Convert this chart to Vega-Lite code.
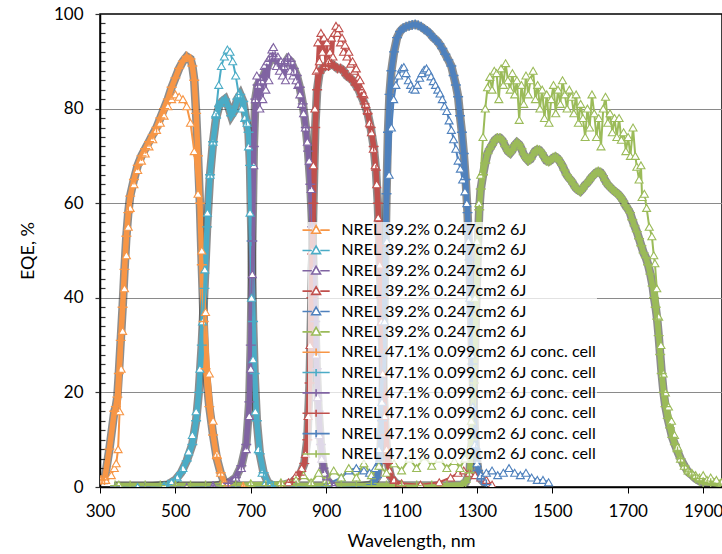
{
"$schema":"https://vega.github.io/schema/vega-lite/v6.json",
"width":622,"height":473,
"autosize":{"type":"none"},
"padding":{"left":100,"top":14,"right":0,"bottom":67},
"background":"white",
"config":{"font":"Lato","view":{"stroke":"black","strokeWidth":1.5}},
"data":{"values":[
{"s":"A1","x":302,"y":1.5},{"s":"A1","x":315,"y":1.5},{"s":"A1","x":330,"y":2.5},{"s":"A1","x":338,"y":4},{"s":"A1","x":343,"y":5},{"s":"A1","x":348,"y":8},{"s":"A1","x":352,"y":16},{"s":"A1","x":356,"y":25},{"s":"A1","x":360,"y":33},{"s":"A1","x":365,"y":42},{"s":"A1","x":370,"y":49},{"s":"A1","x":375,"y":55},{"s":"A1","x":380,"y":59},{"s":"A1","x":390,"y":64},{"s":"A1","x":400,"y":67},{"s":"A1","x":410,"y":69},{"s":"A1","x":420,"y":70.5},{"s":"A1","x":430,"y":72},{"s":"A1","x":440,"y":73.5},{"s":"A1","x":450,"y":75.5},{"s":"A1","x":460,"y":77},{"s":"A1","x":470,"y":78.5},{"s":"A1","x":480,"y":80.5},{"s":"A1","x":490,"y":82},{"s":"A1","x":500,"y":83},{"s":"A1","x":510,"y":82.5},{"s":"A1","x":520,"y":82},{"s":"A1","x":530,"y":80.5},{"s":"A1","x":540,"y":77},{"s":"A1","x":550,"y":71},{"s":"A1","x":560,"y":62},{"s":"A1","x":570,"y":50},{"s":"A1","x":580,"y":37},{"s":"A1","x":590,"y":24},{"s":"A1","x":600,"y":14},{"s":"A1","x":610,"y":7},{"s":"A1","x":620,"y":3},{"s":"A1","x":630,"y":1},{"s":"A1","x":640,"y":0.5},{"s":"A1","x":680,"y":0.2},
{"s":"A2","x":340,"y":0},{"s":"A2","x":400,"y":0},{"s":"A2","x":470,"y":0.3},{"s":"A2","x":490,"y":1},{"s":"A2","x":505,"y":2},{"s":"A2","x":520,"y":4},{"s":"A2","x":535,"y":7.5},{"s":"A2","x":545,"y":11},{"s":"A2","x":555,"y":16},{"s":"A2","x":565,"y":25},{"s":"A2","x":572,"y":35},{"s":"A2","x":578,"y":46},{"s":"A2","x":585,"y":58},{"s":"A2","x":592,"y":66},{"s":"A2","x":600,"y":73},{"s":"A2","x":607,"y":79},{"s":"A2","x":615,"y":85},{"s":"A2","x":622,"y":89},{"s":"A2","x":630,"y":91},{"s":"A2","x":638,"y":92.5},{"s":"A2","x":645,"y":92},{"s":"A2","x":652,"y":90},{"s":"A2","x":660,"y":87},{"s":"A2","x":668,"y":83},{"s":"A2","x":676,"y":80},{"s":"A2","x":684,"y":78},{"s":"A2","x":690,"y":77},{"s":"A2","x":694,"y":72},{"s":"A2","x":698,"y":58},{"s":"A2","x":702,"y":40},{"s":"A2","x":706,"y":27},{"s":"A2","x":712,"y":16},{"s":"A2","x":720,"y":8},{"s":"A2","x":730,"y":3},{"s":"A2","x":740,"y":1},{"s":"A2","x":750,"y":0.3},
{"s":"A3","x":530,"y":0},{"s":"A3","x":600,"y":0.3},{"s":"A3","x":640,"y":0.8},{"s":"A3","x":660,"y":2},{"s":"A3","x":675,"y":4},{"s":"A3","x":688,"y":8},{"s":"A3","x":696,"y":15},{"s":"A3","x":700,"y":25},{"s":"A3","x":704,"y":45},{"s":"A3","x":708,"y":68},{"s":"A3","x":712,"y":82},{"s":"A3","x":716,"y":87},{"s":"A3","x":720,"y":85},{"s":"A3","x":724,"y":80},{"s":"A3","x":728,"y":86},{"s":"A3","x":732,"y":82},{"s":"A3","x":736,"y":89},{"s":"A3","x":740,"y":84},{"s":"A3","x":744,"y":90},{"s":"A3","x":748,"y":86},{"s":"A3","x":752,"y":91},{"s":"A3","x":756,"y":92.5},{"s":"A3","x":760,"y":93},{"s":"A3","x":764,"y":91},{"s":"A3","x":768,"y":89},{"s":"A3","x":772,"y":91},{"s":"A3","x":776,"y":88},{"s":"A3","x":780,"y":90},{"s":"A3","x":784,"y":87},{"s":"A3","x":788,"y":89},{"s":"A3","x":792,"y":86},{"s":"A3","x":796,"y":90},{"s":"A3","x":800,"y":91},{"s":"A3","x":804,"y":88},{"s":"A3","x":808,"y":90},{"s":"A3","x":812,"y":87},{"s":"A3","x":816,"y":88},{"s":"A3","x":820,"y":86},{"s":"A3","x":825,"y":85},{"s":"A3","x":830,"y":83},{"s":"A3","x":835,"y":81},{"s":"A3","x":840,"y":79},{"s":"A3","x":845,"y":76},{"s":"A3","x":850,"y":73},{"s":"A3","x":855,"y":69},{"s":"A3","x":860,"y":63},{"s":"A3","x":864,"y":55},{"s":"A3","x":867,"y":46},{"s":"A3","x":870,"y":37},{"s":"A3","x":873,"y":28},{"s":"A3","x":877,"y":19},{"s":"A3","x":882,"y":11},{"s":"A3","x":888,"y":6},{"s":"A3","x":895,"y":3},{"s":"A3","x":905,"y":1},{"s":"A3","x":920,"y":0.3},
{"s":"A4","x":780,"y":0.3},{"s":"A4","x":800,"y":1},{"s":"A4","x":820,"y":2.5},{"s":"A4","x":835,"y":4},{"s":"A4","x":845,"y":7},{"s":"A4","x":852,"y":15},{"s":"A4","x":857,"y":30},{"s":"A4","x":862,"y":50},{"s":"A4","x":866,"y":68},{"s":"A4","x":870,"y":80},{"s":"A4","x":874,"y":88},{"s":"A4","x":878,"y":94},{"s":"A4","x":882,"y":90},{"s":"A4","x":886,"y":96},{"s":"A4","x":890,"y":92},{"s":"A4","x":894,"y":95},{"s":"A4","x":898,"y":89},{"s":"A4","x":902,"y":94},{"s":"A4","x":906,"y":90},{"s":"A4","x":910,"y":92},{"s":"A4","x":914,"y":95},{"s":"A4","x":918,"y":91},{"s":"A4","x":922,"y":96},{"s":"A4","x":926,"y":97.5},{"s":"A4","x":930,"y":96},{"s":"A4","x":934,"y":97},{"s":"A4","x":938,"y":94},{"s":"A4","x":942,"y":95},{"s":"A4","x":946,"y":92},{"s":"A4","x":950,"y":93.5},{"s":"A4","x":955,"y":91},{"s":"A4","x":960,"y":92},{"s":"A4","x":965,"y":89.5},{"s":"A4","x":970,"y":90},{"s":"A4","x":975,"y":88},{"s":"A4","x":980,"y":88.5},{"s":"A4","x":985,"y":86.5},{"s":"A4","x":990,"y":86},{"s":"A4","x":995,"y":84},{"s":"A4","x":1000,"y":83},{"s":"A4","x":1005,"y":81},{"s":"A4","x":1010,"y":79.5},{"s":"A4","x":1015,"y":77},{"s":"A4","x":1020,"y":75},{"s":"A4","x":1025,"y":71.5},{"s":"A4","x":1030,"y":68},{"s":"A4","x":1034,"y":64},{"s":"A4","x":1038,"y":57},{"s":"A4","x":1042,"y":47},{"s":"A4","x":1046,"y":35},{"s":"A4","x":1050,"y":24},{"s":"A4","x":1055,"y":15},{"s":"A4","x":1060,"y":8},{"s":"A4","x":1068,"y":3.5},{"s":"A4","x":1080,"y":1.5},{"s":"A4","x":1100,"y":0.8},{"s":"A4","x":1150,"y":0.5},{"s":"A4","x":1200,"y":1},{"s":"A4","x":1230,"y":2},{"s":"A4","x":1250,"y":3},{"s":"A4","x":1265,"y":3.5},{"s":"A4","x":1280,"y":3},{"s":"A4","x":1295,"y":2.5},{"s":"A4","x":1310,"y":2},{"s":"A4","x":1325,"y":1.5},{"s":"A4","x":1340,"y":0.5},
{"s":"A5","x":900,"y":0.5},{"s":"A5","x":940,"y":2},{"s":"A5","x":960,"y":3.5},{"s":"A5","x":980,"y":4},{"s":"A5","x":1000,"y":3.5},{"s":"A5","x":1015,"y":3},{"s":"A5","x":1030,"y":4},{"s":"A5","x":1040,"y":8},{"s":"A5","x":1048,"y":18},{"s":"A5","x":1055,"y":35},{"s":"A5","x":1061,"y":52},{"s":"A5","x":1067,"y":66},{"s":"A5","x":1073,"y":76},{"s":"A5","x":1079,"y":82},{"s":"A5","x":1085,"y":85},{"s":"A5","x":1092,"y":87},{"s":"A5","x":1100,"y":88.5},{"s":"A5","x":1106,"y":88.8},{"s":"A5","x":1112,"y":87.5},{"s":"A5","x":1118,"y":86},{"s":"A5","x":1124,"y":85},{"s":"A5","x":1130,"y":84.2},{"s":"A5","x":1136,"y":84},{"s":"A5","x":1142,"y":85},{"s":"A5","x":1148,"y":86.5},{"s":"A5","x":1154,"y":87.5},{"s":"A5","x":1160,"y":88.2},{"s":"A5","x":1166,"y":88.5},{"s":"A5","x":1172,"y":87.8},{"s":"A5","x":1178,"y":86.8},{"s":"A5","x":1184,"y":85.8},{"s":"A5","x":1190,"y":85},{"s":"A5","x":1196,"y":84},{"s":"A5","x":1202,"y":83.2},{"s":"A5","x":1208,"y":82},{"s":"A5","x":1214,"y":80.5},{"s":"A5","x":1220,"y":79.5},{"s":"A5","x":1226,"y":77.5},{"s":"A5","x":1232,"y":75.5},{"s":"A5","x":1238,"y":73.5},{"s":"A5","x":1244,"y":71.5},{"s":"A5","x":1250,"y":69},{"s":"A5","x":1256,"y":67.3},{"s":"A5","x":1262,"y":65},{"s":"A5","x":1268,"y":62.5},{"s":"A5","x":1273,"y":60},{"s":"A5","x":1277,"y":52},{"s":"A5","x":1281,"y":40},{"s":"A5","x":1285,"y":28},{"s":"A5","x":1289,"y":17},{"s":"A5","x":1294,"y":9},{"s":"A5","x":1300,"y":5},{"s":"A5","x":1310,"y":2.5},{"s":"A5","x":1325,"y":3},{"s":"A5","x":1340,"y":3.5},{"s":"A5","x":1355,"y":2.5},{"s":"A5","x":1370,"y":3},{"s":"A5","x":1385,"y":4},{"s":"A5","x":1400,"y":3},{"s":"A5","x":1415,"y":2.5},{"s":"A5","x":1430,"y":3},{"s":"A5","x":1445,"y":2},{"s":"A5","x":1460,"y":1.5},{"s":"A5","x":1475,"y":1.5},{"s":"A5","x":1490,"y":1},
{"s":"A6","x":350,"y":0.5},{"s":"A6","x":500,"y":0.5},{"s":"A6","x":700,"y":0.8},{"s":"A6","x":780,"y":1},{"s":"A6","x":820,"y":1.5},{"s":"A6","x":840,"y":2.5},{"s":"A6","x":860,"y":1},{"s":"A6","x":880,"y":3},{"s":"A6","x":900,"y":1.5},{"s":"A6","x":920,"y":3.5},{"s":"A6","x":940,"y":2},{"s":"A6","x":960,"y":4},{"s":"A6","x":980,"y":2},{"s":"A6","x":1000,"y":5},{"s":"A6","x":1020,"y":2.5},{"s":"A6","x":1040,"y":4.5},{"s":"A6","x":1060,"y":3},{"s":"A6","x":1080,"y":5},{"s":"A6","x":1100,"y":3.5},{"s":"A6","x":1120,"y":6},{"s":"A6","x":1140,"y":4},{"s":"A6","x":1160,"y":6.5},{"s":"A6","x":1180,"y":4.5},{"s":"A6","x":1200,"y":6},{"s":"A6","x":1220,"y":4},{"s":"A6","x":1240,"y":5.5},{"s":"A6","x":1255,"y":4},{"s":"A6","x":1268,"y":6},{"s":"A6","x":1278,"y":8},{"s":"A6","x":1285,"y":14},{"s":"A6","x":1290,"y":25},{"s":"A6","x":1295,"y":40},{"s":"A6","x":1300,"y":52},{"s":"A6","x":1305,"y":60},{"s":"A6","x":1310,"y":66},{"s":"A6","x":1316,"y":74},{"s":"A6","x":1322,"y":80},{"s":"A6","x":1328,"y":84.5},{"s":"A6","x":1334,"y":86.7},{"s":"A6","x":1340,"y":84},{"s":"A6","x":1346,"y":88},{"s":"A6","x":1352,"y":87.5},{"s":"A6","x":1358,"y":82},{"s":"A6","x":1364,"y":88.5},{"s":"A6","x":1370,"y":85},{"s":"A6","x":1376,"y":89.6},{"s":"A6","x":1382,"y":86},{"s":"A6","x":1388,"y":84},{"s":"A6","x":1394,"y":87.5},{"s":"A6","x":1400,"y":83},{"s":"A6","x":1406,"y":86},{"s":"A6","x":1412,"y":77.6},{"s":"A6","x":1418,"y":85},{"s":"A6","x":1424,"y":81},{"s":"A6","x":1430,"y":87},{"s":"A6","x":1436,"y":83},{"s":"A6","x":1442,"y":86},{"s":"A6","x":1449,"y":88},{"s":"A6","x":1455,"y":82},{"s":"A6","x":1461,"y":85},{"s":"A6","x":1467,"y":80},{"s":"A6","x":1473,"y":84},{"s":"A6","x":1479,"y":78},{"s":"A6","x":1485,"y":83},{"s":"A6","x":1491,"y":77},{"s":"A6","x":1497,"y":82},{"s":"A6","x":1503,"y":85},{"s":"A6","x":1509,"y":79},{"s":"A6","x":1515,"y":84},{"s":"A6","x":1521,"y":81},{"s":"A6","x":1527,"y":86},{"s":"A6","x":1533,"y":83},{"s":"A6","x":1539,"y":80},{"s":"A6","x":1545,"y":84},{"s":"A6","x":1551,"y":82.5},{"s":"A6","x":1557,"y":79},{"s":"A6","x":1563,"y":83},{"s":"A6","x":1569,"y":77},{"s":"A6","x":1575,"y":81},{"s":"A6","x":1581,"y":78},{"s":"A6","x":1587,"y":74},{"s":"A6","x":1593,"y":80},{"s":"A6","x":1599,"y":76},{"s":"A6","x":1605,"y":83},{"s":"A6","x":1611,"y":79},{"s":"A6","x":1617,"y":74},{"s":"A6","x":1623,"y":78},{"s":"A6","x":1629,"y":72},{"s":"A6","x":1635,"y":80},{"s":"A6","x":1641,"y":82.5},{"s":"A6","x":1647,"y":77},{"s":"A6","x":1653,"y":79},{"s":"A6","x":1659,"y":75},{"s":"A6","x":1665,"y":78},{"s":"A6","x":1671,"y":74},{"s":"A6","x":1677,"y":78},{"s":"A6","x":1683,"y":73.4},{"s":"A6","x":1689,"y":75},{"s":"A6","x":1695,"y":71},{"s":"A6","x":1701,"y":74},{"s":"A6","x":1707,"y":70},{"s":"A6","x":1714,"y":76},{"s":"A6","x":1720,"y":70},{"s":"A6","x":1724,"y":67.7},{"s":"A6","x":1730,"y":65},{"s":"A6","x":1735,"y":68},{"s":"A6","x":1738,"y":61.3},{"s":"A6","x":1744,"y":62},{"s":"A6","x":1750,"y":59},{"s":"A6","x":1757,"y":55},{"s":"A6","x":1764,"y":53},{"s":"A6","x":1769,"y":49},{"s":"A6","x":1772,"y":47.3},{"s":"A6","x":1777,"y":42},{"s":"A6","x":1782,"y":36},{"s":"A6","x":1788,"y":30},{"s":"A6","x":1794,"y":24},{"s":"A6","x":1800,"y":20},{"s":"A6","x":1808,"y":17},{"s":"A6","x":1816,"y":14},{"s":"A6","x":1824,"y":11},{"s":"A6","x":1832,"y":8.5},{"s":"A6","x":1840,"y":6},{"s":"A6","x":1850,"y":4.5},{"s":"A6","x":1860,"y":3.5},{"s":"A6","x":1870,"y":3},{"s":"A6","x":1880,"y":2.5},{"s":"A6","x":1890,"y":2},{"s":"A6","x":1900,"y":2.5},{"s":"A6","x":1910,"y":1.5},{"s":"A6","x":1920,"y":2},{"s":"A6","x":1935,"y":1.5},{"s":"A6","x":1948,"y":1},
{"s":"B1","x":303,"y":1.5},{"s":"B1","x":312,"y":1.5},{"s":"B1","x":325,"y":8},{"s":"B1","x":338,"y":16},{"s":"B1","x":342,"y":17},{"s":"B1","x":346,"y":19},{"s":"B1","x":350,"y":24},{"s":"B1","x":355,"y":31},{"s":"B1","x":360,"y":38},{"s":"B1","x":365,"y":46},{"s":"B1","x":370,"y":53},{"s":"B1","x":375,"y":58},{"s":"B1","x":380,"y":61.5},{"s":"B1","x":390,"y":65},{"s":"B1","x":400,"y":68},{"s":"B1","x":410,"y":70},{"s":"B1","x":420,"y":71.5},{"s":"B1","x":430,"y":73},{"s":"B1","x":440,"y":74.5},{"s":"B1","x":450,"y":76},{"s":"B1","x":460,"y":78},{"s":"B1","x":470,"y":80},{"s":"B1","x":480,"y":82},{"s":"B1","x":490,"y":84.5},{"s":"B1","x":500,"y":86.5},{"s":"B1","x":510,"y":88.5},{"s":"B1","x":520,"y":90},{"s":"B1","x":530,"y":91},{"s":"B1","x":540,"y":90.5},{"s":"B1","x":545,"y":89},{"s":"B1","x":550,"y":86},{"s":"B1","x":555,"y":79},{"s":"B1","x":560,"y":70},{"s":"B1","x":565,"y":60},{"s":"B1","x":570,"y":47},{"s":"B1","x":575,"y":35},{"s":"B1","x":580,"y":25},{"s":"B1","x":590,"y":17},{"s":"B1","x":600,"y":11},{"s":"B1","x":610,"y":6},{"s":"B1","x":620,"y":3},{"s":"B1","x":630,"y":1},{"s":"B1","x":640,"y":0.3},{"s":"B1","x":680,"y":0},
{"s":"B2","x":340,"y":0},{"s":"B2","x":420,"y":0},{"s":"B2","x":480,"y":0.5},{"s":"B2","x":500,"y":1.5},{"s":"B2","x":515,"y":3},{"s":"B2","x":530,"y":5.5},{"s":"B2","x":545,"y":9},{"s":"B2","x":555,"y":14},{"s":"B2","x":562,"y":20},{"s":"B2","x":570,"y":30},{"s":"B2","x":577,"y":42},{"s":"B2","x":584,"y":55},{"s":"B2","x":592,"y":66},{"s":"B2","x":600,"y":73},{"s":"B2","x":608,"y":78},{"s":"B2","x":616,"y":80.5},{"s":"B2","x":624,"y":81.5},{"s":"B2","x":632,"y":82},{"s":"B2","x":640,"y":80.5},{"s":"B2","x":648,"y":78.5},{"s":"B2","x":656,"y":79.5},{"s":"B2","x":664,"y":82},{"s":"B2","x":672,"y":83},{"s":"B2","x":680,"y":81.5},{"s":"B2","x":688,"y":77.5},{"s":"B2","x":694,"y":75},{"s":"B2","x":698,"y":68},{"s":"B2","x":702,"y":52},{"s":"B2","x":706,"y":35},{"s":"B2","x":710,"y":24},{"s":"B2","x":716,"y":14},{"s":"B2","x":724,"y":7},{"s":"B2","x":734,"y":3},{"s":"B2","x":745,"y":1},{"s":"B2","x":760,"y":0.2},
{"s":"B3","x":340,"y":0},{"s":"B3","x":500,"y":0},{"s":"B3","x":600,"y":0.2},{"s":"B3","x":640,"y":0.8},{"s":"B3","x":660,"y":2},{"s":"B3","x":675,"y":4.5},{"s":"B3","x":688,"y":9},{"s":"B3","x":696,"y":18},{"s":"B3","x":700,"y":30},{"s":"B3","x":704,"y":52},{"s":"B3","x":708,"y":72},{"s":"B3","x":712,"y":82},{"s":"B3","x":718,"y":85},{"s":"B3","x":726,"y":86},{"s":"B3","x":734,"y":87},{"s":"B3","x":742,"y":88.5},{"s":"B3","x":750,"y":90},{"s":"B3","x":758,"y":91},{"s":"B3","x":766,"y":90.5},{"s":"B3","x":774,"y":89.5},{"s":"B3","x":782,"y":89},{"s":"B3","x":790,"y":89.5},{"s":"B3","x":798,"y":90.5},{"s":"B3","x":806,"y":90},{"s":"B3","x":814,"y":88.5},{"s":"B3","x":822,"y":87},{"s":"B3","x":830,"y":84.5},{"s":"B3","x":838,"y":81},{"s":"B3","x":846,"y":76},{"s":"B3","x":852,"y":71},{"s":"B3","x":858,"y":64},{"s":"B3","x":863,"y":55},{"s":"B3","x":867,"y":45},{"s":"B3","x":871,"y":35},{"s":"B3","x":875,"y":25},{"s":"B3","x":880,"y":16},{"s":"B3","x":886,"y":9},{"s":"B3","x":893,"y":4},{"s":"B3","x":902,"y":1.5},{"s":"B3","x":915,"y":0.3},
{"s":"B4","x":340,"y":0},{"s":"B4","x":420,"y":0},{"s":"B4","x":500,"y":0},{"s":"B4","x":580,"y":0},{"s":"B4","x":660,"y":0},{"s":"B4","x":740,"y":0},{"s":"B4","x":780,"y":0.3},{"s":"B4","x":810,"y":1},{"s":"B4","x":830,"y":2.5},{"s":"B4","x":842,"y":5},{"s":"B4","x":850,"y":10},{"s":"B4","x":856,"y":22},{"s":"B4","x":861,"y":40},{"s":"B4","x":866,"y":60},{"s":"B4","x":871,"y":76},{"s":"B4","x":876,"y":84},{"s":"B4","x":882,"y":87.5},{"s":"B4","x":890,"y":88.5},{"s":"B4","x":898,"y":89},{"s":"B4","x":906,"y":89},{"s":"B4","x":914,"y":89.5},{"s":"B4","x":922,"y":89},{"s":"B4","x":930,"y":88.5},{"s":"B4","x":938,"y":88.5},{"s":"B4","x":946,"y":88},{"s":"B4","x":954,"y":87},{"s":"B4","x":962,"y":86.5},{"s":"B4","x":970,"y":86},{"s":"B4","x":978,"y":85},{"s":"B4","x":986,"y":84},{"s":"B4","x":994,"y":82.5},{"s":"B4","x":1002,"y":81},{"s":"B4","x":1010,"y":79},{"s":"B4","x":1018,"y":76},{"s":"B4","x":1026,"y":72},{"s":"B4","x":1032,"y":67},{"s":"B4","x":1037,"y":60},{"s":"B4","x":1041,"y":51},{"s":"B4","x":1045,"y":40},{"s":"B4","x":1049,"y":29},{"s":"B4","x":1053,"y":19},{"s":"B4","x":1058,"y":11},{"s":"B4","x":1064,"y":5},{"s":"B4","x":1072,"y":2},{"s":"B4","x":1085,"y":0.8},{"s":"B4","x":1100,"y":0.3},
{"s":"B5","x":340,"y":0},{"s":"B5","x":420,"y":0},{"s":"B5","x":500,"y":0},{"s":"B5","x":580,"y":0},{"s":"B5","x":660,"y":0},{"s":"B5","x":740,"y":0},{"s":"B5","x":820,"y":0},{"s":"B5","x":900,"y":0},{"s":"B5","x":980,"y":0},{"s":"B5","x":1020,"y":0.5},{"s":"B5","x":1035,"y":2},{"s":"B5","x":1043,"y":6},{"s":"B5","x":1048,"y":14},{"s":"B5","x":1052,"y":28},{"s":"B5","x":1056,"y":45},{"s":"B5","x":1060,"y":62},{"s":"B5","x":1064,"y":75},{"s":"B5","x":1068,"y":83},{"s":"B5","x":1073,"y":88},{"s":"B5","x":1080,"y":92},{"s":"B5","x":1088,"y":95},{"s":"B5","x":1096,"y":96.3},{"s":"B5","x":1104,"y":97},{"s":"B5","x":1112,"y":97.3},{"s":"B5","x":1120,"y":97.5},{"s":"B5","x":1128,"y":97.7},{"s":"B5","x":1136,"y":97.8},{"s":"B5","x":1144,"y":97.6},{"s":"B5","x":1152,"y":97.3},{"s":"B5","x":1160,"y":96.8},{"s":"B5","x":1168,"y":96.4},{"s":"B5","x":1176,"y":95.8},{"s":"B5","x":1184,"y":95},{"s":"B5","x":1192,"y":94.5},{"s":"B5","x":1200,"y":93.7},{"s":"B5","x":1208,"y":92.7},{"s":"B5","x":1216,"y":91.5},{"s":"B5","x":1224,"y":90.3},{"s":"B5","x":1232,"y":89},{"s":"B5","x":1238,"y":87},{"s":"B5","x":1244,"y":85},{"s":"B5","x":1250,"y":82.5},{"s":"B5","x":1255,"y":78.5},{"s":"B5","x":1260,"y":75},{"s":"B5","x":1265,"y":70.5},{"s":"B5","x":1270,"y":65},{"s":"B5","x":1275,"y":58},{"s":"B5","x":1280,"y":48},{"s":"B5","x":1284,"y":37},{"s":"B5","x":1288,"y":26},{"s":"B5","x":1292,"y":16},{"s":"B5","x":1297,"y":8},{"s":"B5","x":1303,"y":3.5},{"s":"B5","x":1312,"y":1.5},{"s":"B5","x":1325,"y":0.5},
{"s":"B6","x":340,"y":0.3},{"s":"B6","x":380,"y":0.3},{"s":"B6","x":420,"y":0.3},{"s":"B6","x":460,"y":0.3},{"s":"B6","x":500,"y":0.3},{"s":"B6","x":540,"y":0.3},{"s":"B6","x":580,"y":0.3},{"s":"B6","x":620,"y":0.3},{"s":"B6","x":660,"y":0.3},{"s":"B6","x":700,"y":0.3},{"s":"B6","x":740,"y":0.3},{"s":"B6","x":780,"y":0.3},{"s":"B6","x":820,"y":0.3},{"s":"B6","x":860,"y":0.3},{"s":"B6","x":900,"y":0.3},{"s":"B6","x":940,"y":0.3},{"s":"B6","x":980,"y":0.3},{"s":"B6","x":1020,"y":0.3},{"s":"B6","x":1060,"y":0.3},{"s":"B6","x":1100,"y":0.3},{"s":"B6","x":1140,"y":0.3},{"s":"B6","x":1180,"y":0.3},{"s":"B6","x":1220,"y":0.3},{"s":"B6","x":1260,"y":0.5},{"s":"B6","x":1270,"y":1},{"s":"B6","x":1280,"y":3},{"s":"B6","x":1287,"y":10},{"s":"B6","x":1292,"y":22},{"s":"B6","x":1297,"y":36},{"s":"B6","x":1302,"y":50},{"s":"B6","x":1306,"y":58.6},{"s":"B6","x":1310,"y":63},{"s":"B6","x":1316,"y":66},{"s":"B6","x":1322,"y":68.5},{"s":"B6","x":1328,"y":70.5},{"s":"B6","x":1334,"y":71.5},{"s":"B6","x":1340,"y":72.3},{"s":"B6","x":1347,"y":73.3},{"s":"B6","x":1354,"y":73.8},{"s":"B6","x":1361,"y":73.8},{"s":"B6","x":1368,"y":73.2},{"s":"B6","x":1375,"y":72},{"s":"B6","x":1382,"y":71},{"s":"B6","x":1388,"y":70.6},{"s":"B6","x":1394,"y":71.2},{"s":"B6","x":1400,"y":72.3},{"s":"B6","x":1406,"y":72.8},{"s":"B6","x":1412,"y":72.4},{"s":"B6","x":1418,"y":71.5},{"s":"B6","x":1424,"y":70.3},{"s":"B6","x":1430,"y":69.5},{"s":"B6","x":1436,"y":69},{"s":"B6","x":1442,"y":69.3},{"s":"B6","x":1448,"y":70.2},{"s":"B6","x":1454,"y":71},{"s":"B6","x":1460,"y":71.3},{"s":"B6","x":1466,"y":71.2},{"s":"B6","x":1472,"y":70.6},{"s":"B6","x":1478,"y":69.8},{"s":"B6","x":1484,"y":69},{"s":"B6","x":1490,"y":68.8},{"s":"B6","x":1496,"y":69.1},{"s":"B6","x":1502,"y":69.6},{"s":"B6","x":1508,"y":69.8},{"s":"B6","x":1514,"y":69.5},{"s":"B6","x":1520,"y":68.8},{"s":"B6","x":1526,"y":68},{"s":"B6","x":1532,"y":67},{"s":"B6","x":1538,"y":66},{"s":"B6","x":1544,"y":65.3},{"s":"B6","x":1550,"y":64.8},{"s":"B6","x":1556,"y":64},{"s":"B6","x":1562,"y":63.2},{"s":"B6","x":1568,"y":62.8},{"s":"B6","x":1574,"y":62.5},{"s":"B6","x":1580,"y":63},{"s":"B6","x":1586,"y":63.8},{"s":"B6","x":1592,"y":64.2},{"s":"B6","x":1598,"y":64.8},{"s":"B6","x":1604,"y":65.5},{"s":"B6","x":1610,"y":66},{"s":"B6","x":1616,"y":66.5},{"s":"B6","x":1622,"y":66.7},{"s":"B6","x":1628,"y":66.5},{"s":"B6","x":1634,"y":65.8},{"s":"B6","x":1640,"y":64.8},{"s":"B6","x":1646,"y":64},{"s":"B6","x":1652,"y":63.5},{"s":"B6","x":1658,"y":63},{"s":"B6","x":1664,"y":62.6},{"s":"B6","x":1670,"y":62.2},{"s":"B6","x":1676,"y":61.8},{"s":"B6","x":1682,"y":61.2},{"s":"B6","x":1688,"y":60.5},{"s":"B6","x":1694,"y":59.5},{"s":"B6","x":1700,"y":58.8},{"s":"B6","x":1706,"y":58},{"s":"B6","x":1712,"y":56.5},{"s":"B6","x":1718,"y":55.2},{"s":"B6","x":1724,"y":54},{"s":"B6","x":1730,"y":52.5},{"s":"B6","x":1736,"y":51},{"s":"B6","x":1742,"y":49.5},{"s":"B6","x":1748,"y":48.5},{"s":"B6","x":1754,"y":47},{"s":"B6","x":1760,"y":45},{"s":"B6","x":1766,"y":42.5},{"s":"B6","x":1770,"y":40},{"s":"B6","x":1774,"y":38},{"s":"B6","x":1778,"y":35.5},{"s":"B6","x":1782,"y":32},{"s":"B6","x":1786,"y":28},{"s":"B6","x":1790,"y":24},{"s":"B6","x":1795,"y":20},{"s":"B6","x":1800,"y":17},{"s":"B6","x":1806,"y":14.5},{"s":"B6","x":1812,"y":12.5},{"s":"B6","x":1818,"y":10.5},{"s":"B6","x":1825,"y":9},{"s":"B6","x":1832,"y":7.5},{"s":"B6","x":1840,"y":6},{"s":"B6","x":1850,"y":4.5},{"s":"B6","x":1860,"y":3.2},{"s":"B6","x":1870,"y":2.5},{"s":"B6","x":1880,"y":1.8},{"s":"B6","x":1890,"y":1.3},{"s":"B6","x":1900,"y":1},{"s":"B6","x":1920,"y":0.8},{"s":"B6","x":1945,"y":0.6}
]},
"encoding":{
"x":{"field":"x","type":"quantitative","scale":{"domain":[300,1950],"nice":false,"zero":false},
"axis":{"values":[300,500,700,900,1100,1300,1500,1700,1900],"format":"d","title":"Wavelength, nm","grid":false,"tickSize":6,"tickColor":"black","domainColor":"black","domainWidth":1.5,"labelFontSize":17,"labelColor":"black","labelPadding":10,"labelFlush":false,"labelOverlap":false,"labelBound":false,"titleFontSize":18,"titleFontWeight":"normal","titleColor":"black","titlePadding":13}},
"y":{"field":"y","type":"quantitative","scale":{"domain":[0,100],"nice":false},
"axis":{"values":[0,2,4,6,8,10,12,14,16,18,20,22,24,26,28,30,32,34,36,38,40,42,44,46,48,50,52,54,56,58,60,62,64,66,68,70,72,74,76,78,80,82,84,86,88,90,92,94,96,98,100],
"labelExpr":"datum.value % 20 === 0 ? datum.label : ''","title":"EQE, %","grid":true,"gridColor":"#8a8a8a","gridWidth":1.2,
"gridOpacity":{"condition":{"test":"datum.value % 20 === 0 && datum.value > 0 && datum.value < 100","value":1},"value":0},
"tickSize":{"condition":{"test":"datum.value % 20 === 0","value":5},"value":-5},
"tickColor":"#333","tickWidth":1.2,"domainColor":"black","domainWidth":1.5,"labelFontSize":17,"labelColor":"black","labelPadding":12,"labelOverlap":false,"labelBound":false,
"titleFontSize":18,"titleFontWeight":"normal","titleColor":"black","titlePadding":16}}
},
"layer":[
{"transform":[{"filter":"datum.s[0] === 'B'"}],
"mark":{"type":"line","strokeWidth":8.5,"clip":true,"color":"#2f2f2f","opacity":0.55},
"encoding":{"detail":{"field":"s","type":"nominal"}}},
{"transform":[{"filter":"datum.s[0] === 'B'"}],
"mark":{"type":"line","strokeWidth":5.5,"clip":true},
"encoding":{"color":{"field":"s","type":"nominal"}}},
{"mark":{"type":"line","strokeWidth":2,"clip":true},
"encoding":{"color":{"field":"s","type":"nominal",
"scale":{"domain":["A1","A2","A3","A4","A5","A6","B1","B2","B3","B4","B5","B6"],"range":["#F79646","#4BACC6","#8064A2","#C0504D","#4F81BD","#9BBB59","#F79646","#4BACC6","#8064A2","#C0504D","#4F81BD","#9BBB59"]},
"legend":{"orient":"none","legendX":208,"legendY":208,"title":null,"padding":0,"fillColor":"rgba(255,255,255,0.75)",
"labelExpr":"datum.value[0] === 'A' ? 'NREL 39.2% 0.247cm2 6J' : 'NREL 47.1% 0.099cm2 6J conc. cell'",
"labelFont":"Lato","labelFontSize":16.2,"labelColor":"black","labelLimit":400,"labelOffset":17,"rowPadding":3.35,"symbolSize":64,"symbolStrokeWidth":1.6,"symbolFillColor":"white",
"encode":{"symbols":{"update":{"shape":{"signal":"datum.value[0] === 'A' ? 'M-3.4,0H-1.05M1.05,0H3.4M0,-1.1L1.1,0.8L-1.1,0.8Z' : 'M-3.4,0H3.4M0,-0.9V0.9'"},"fill":{"value":"white"},"strokeWidth":{"value":1.6}}}}}}}},
{"transform":[{"filter":"datum.s[0] === 'A'"}],
"mark":{"type":"point","clip":true,"filled":false,"fill":"white","strokeWidth":1.1,"opacity":1,"shape":"triangle-up","size":64},
"encoding":{"color":{"field":"s","type":"nominal"}}},
{"transform":[{"filter":"datum.s[0] === 'B'"}],
"mark":{"type":"point","clip":true,"filled":false,"strokeWidth":1.4,"opacity":1,"shape":"M-1,0H1M0,-1V1","size":100},
"encoding":{"color":{"field":"s","type":"nominal"}}}
]
}
